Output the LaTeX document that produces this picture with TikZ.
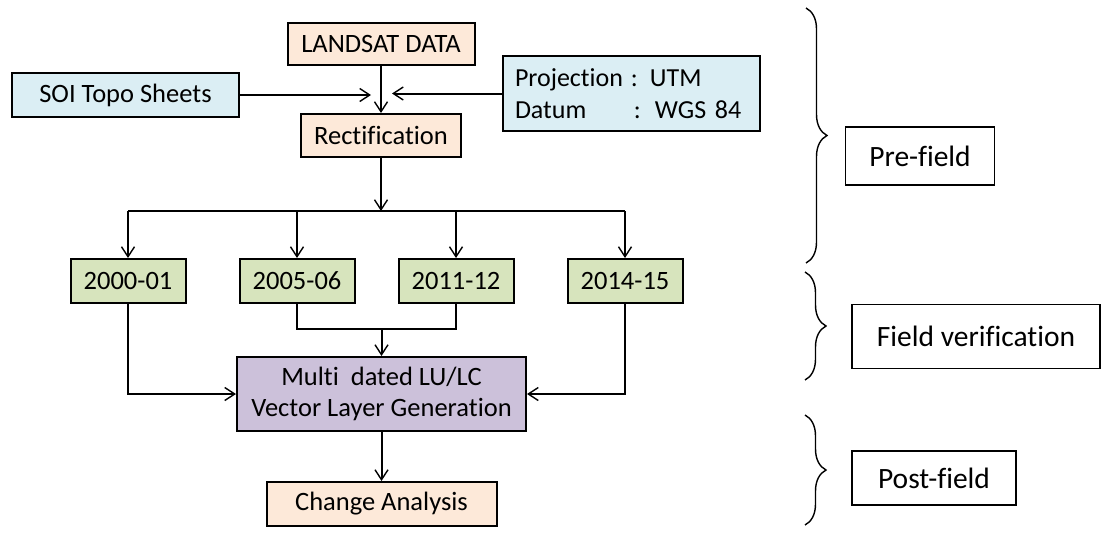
\documentclass[tikz,border=0pt]{standalone}
\usepackage{fontspec}
\setmainfont{Carlito}[Ligatures=NoCommon]
\usetikzlibrary{arrows.meta,decorations.pathreplacing}
\definecolor{peach}{HTML}{FDE9D9}
\definecolor{lblue}{HTML}{DBEEF4}
\definecolor{lgreen}{HTML}{D7E4BD}
\definecolor{lav}{HTML}{CCC1DA}
\begin{document}
\begin{tikzpicture}[x=1pt,y=-1pt,
  box/.style={draw=black,line width=2pt,inner sep=0pt,font=\fontsize{26.5}{31}\selectfont,align=center},
  lab/.style={draw=black,line width=1.3pt,inner sep=0pt,font=\fontsize{29.5}{34}\selectfont},
  conn/.style={line width=2pt},
  arr/.style={conn,-{Straight Barb[length=10pt,width=13pt,line width=1.4pt]}},
  brc/.style={line width=1.4pt,decorate,decoration={brace,amplitude=21pt}}]
\useasboundingbox (0,0) rectangle (1107,542);

% nodes
\node[box,fill=peach,minimum width=187pt,minimum height=42pt] (landsat) at (381,44) {LANDSAT DATA};
\node[box,fill=lblue,minimum width=227pt,minimum height=44pt] (soi) at (125.5,95) {SOI Topo Sheets};
\node[box,fill=lblue,minimum width=257pt,minimum height=75pt,text width=233pt,inner xsep=12pt,align=left,font=\fontsize{26}{32}\selectfont] (proj) at (631.5,93.5)
  {\makebox[116pt][l]{Projection}:\hspace{12pt}UTM\\\makebox[119pt][l]{Datum}:\hspace{14pt}WGS 84};
\node[box,fill=peach,minimum width=160pt,minimum height=43pt] (rect) at (381,135.5) {Rectification};

\node[box,fill=lgreen,minimum width=115pt,minimum height=44pt] (y1) at (128,281) {2000-01};
\node[box,fill=lgreen,minimum width=115pt,minimum height=44pt] (y2) at (297,281) {2005-06};
\node[box,fill=lgreen,minimum width=115pt,minimum height=44pt] (y3) at (456,281) {2011-12};
\node[box,fill=lgreen,minimum width=115pt,minimum height=44pt] (y4) at (625,281) {2014-15};

\node[box,fill=lav,minimum width=289pt,minimum height=74pt] (multi) at (381.5,394) {Multi\ \ dated LU/LC\\Vector Layer Generation};
\node[box,fill=peach,minimum width=230pt,minimum height=44pt] (change) at (381.5,504) {Change Analysis};

\node[lab,minimum width=149pt,minimum height=58pt] (pre) at (920,156) {Pre-field};
\node[lab,minimum width=248pt,minimum height=64pt] (fv) at (976,336.5) {Field verification};
\node[lab,minimum width=164pt,minimum height=54pt] (post) at (934,478) {Post-field};

% coordinates
\coordinate (soiEnd) at (371,95);
\coordinate (projEnd) at (392,93.5);
\coordinate (split) at (381,211);
\coordinate (merge) at (381.5,329);
\coordinate (b1t) at (806,8);
\coordinate (b1b) at (806,263);
\coordinate (b2t) at (805,272);
\coordinate (b2b) at (805,380);
\coordinate (b3t) at (805,415);
\coordinate (b3b) at (805,525);

% connectors
\draw[arr] (landsat.south) -- (rect.north);
\draw[arr] (soi.east) -- (soiEnd);
\draw[arr] (proj.west) -- (projEnd);
\draw[arr] (rect.south) -- (split);
\draw[conn] (y1.north |- split) -- (y4.north |- split);
\draw[arr] (y1.north |- split) -- (y1.north);
\draw[arr] (y2.north |- split) -- (y2.north);
\draw[arr] (y3.north |- split) -- (y3.north);
\draw[arr] (y4.north |- split) -- (y4.north);
\draw[conn] (y2.south) -- (y2.south |- merge) -- (y3.south |- merge) -- (y3.south);
\draw[arr] (merge) -- (multi.north);
\draw[arr] (y1.south) |- (multi.west);
\draw[arr] (y4.south) |- (multi.east);
\draw[arr] (multi.south) -- (change.north);

% braces
\draw[brc] (b1t) -- (b1b);
\draw[brc] (b2t) -- (b2b);
\draw[brc] (b3t) -- (b3b);
\end{tikzpicture}
\end{document}
